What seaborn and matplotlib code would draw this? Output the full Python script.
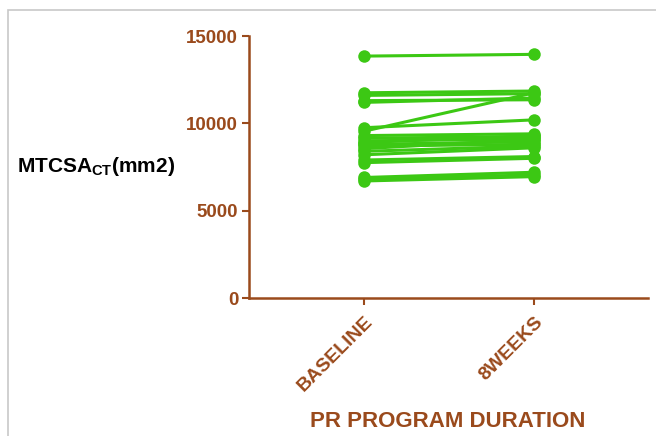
import pandas as pd
import matplotlib.pyplot as plt
import matplotlib.patches as mpatches
import seaborn as sns

# Values, one pair per subject
times = ["BASELINE", "8WEEKS"]
baseline = [13850, 11750, 11600, 11300, 11200, 9550, 9750, 9300, 9150, 9000,
            8900, 8800, 8700, 8550, 8400, 8200, 7900, 7750, 6900, 6800, 6700]
weeks8 = [13950, 11850, 11700, 11350, 11450, 11750, 10200, 9400, 9250, 9100,
          9300, 8950, 8800, 9100, 8700, 8600, 8100, 8000, 7200, 7050, 6950]
y_ticks = [0, 5000, 10000, 15000]

brown = "#9A4A1C"
green = "#3CC814"

sns.set_style("white")
plt.rcParams["font.family"] = ["Liberation Sans", "DejaVu Sans"]
plt.rcParams["mathtext.fontset"] = "custom"
plt.rcParams["mathtext.bf"] = "Liberation Sans:bold"
plt.rcParams["mathtext.rm"] = "Liberation Sans"

# Long-form table: one row per subject per time point
rows = []
for i, (b, w) in enumerate(zip(baseline, weeks8)):
    rows.append({"subject": i, "time": times[0], "value": b})
    rows.append({"subject": i, "time": times[1], "value": w})
df = pd.DataFrame(rows)

fig = plt.figure(figsize=(6.56, 4.36), dpi=100)
ax = fig.add_axes([0.38, 0.3165, 0.608, 0.6009])

sns.lineplot(data=df, x="time", y="value", units="subject", estimator=None,
             sort=False, marker="o", markersize=9, markeredgewidth=0,
             color=green, linewidth=2.2, ax=ax)

ax.set_xlim(-0.676, 1.67)
ax.set_ylim(0, 15000)
ax.set_yticks(y_ticks)
ax.set_yticklabels([str(t) for t in y_ticks], fontsize=13.5, fontweight="bold")
ax.set_xticks([0, 1])
ax.set_xticklabels(times, rotation=45, ha="right", rotation_mode="anchor",
                   fontsize=14, fontweight="bold")
ax.tick_params(axis="both", direction="out", length=5, width=1.5, colors=brown,
               left=True, bottom=True, pad=3)
ax.tick_params(axis="x", pad=6)
for lab in ax.get_xticklabels() + ax.get_yticklabels():
    lab.set_color(brown)

sns.despine(ax=ax)
for side in ["left", "bottom"]:
    ax.spines[side].set_color(brown)
    ax.spines[side].set_linewidth(1.8)

ax.set_xlabel("")
ax.set_ylabel("")
fig.text(0.683, 0.034, "PR PROGRAM DURATION", ha="center", va="center",
         fontsize=16, fontweight="bold", color=brown)
fig.text(0.026, 0.617, r"$\mathbf{MTCSA_{CT}(mm2)}$", ha="left", va="center",
         fontsize=15, color="black")

# light grey frame round the picture
fig.patches.append(mpatches.Rectangle((0.012, -0.05), 1.1, 1.027, transform=fig.transFigure,
                                      fill=False, edgecolor="#c8c8c8", linewidth=1.2))

fig.savefig("out.png", dpi=100)
